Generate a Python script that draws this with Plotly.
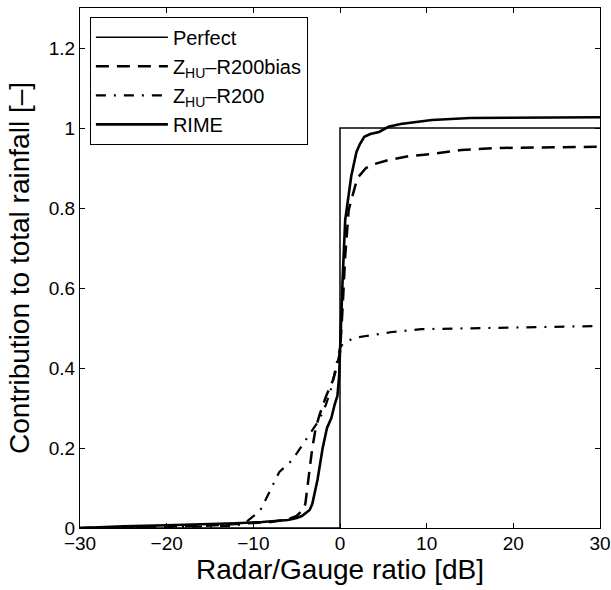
import plotly.graph_objects as go

# ---- data ----
perfect_x = [-30, 0, 0, 30]
perfect_y = [0, 0, 1, 1]

rime_x = [-30, -28, -25, -20, -15, -12, -9, -7, -6, -5, -4.4, -3.5, -3.2, -2.9, -2.6, -2.3, -2.0,
          -1.5, -1.0, -0.6, -0.3, -0.1, 0.0, 0.3, 0.6, 0.9, 1.3, 1.9, 2.3, 2.8, 3.5, 4.5, 5.6,
          7, 10.6, 15, 20, 30]
rime_y = [0.0, 0.002, 0.004, 0.007, 0.009, 0.012, 0.015, 0.018, 0.02, 0.025, 0.03, 0.045, 0.06,
          0.09, 0.12, 0.16, 0.2, 0.25, 0.275, 0.31, 0.33, 0.38, 0.45, 0.62, 0.77, 0.82, 0.88,
          0.94, 0.96, 0.978, 0.985, 0.99, 1.003, 1.01, 1.02, 1.025, 1.026, 1.027]

bias_x = [-30, -20, -15, -12, -10, -8, -6, -5, -4.3, -4.0, -3.8, -3.5, -3.2, -2.8, -2.4, -1.6,
          -0.8, -0.4, 0.0, 0.3, 0.6, 1.0, 1.3, 2.0, 3.0, 4.0, 5.6, 8, 10.6, 14, 18.3, 30]
bias_y = [0.0, 0.003, 0.006, 0.01, 0.013, 0.015, 0.022, 0.03, 0.045, 0.06, 0.095, 0.15, 0.2,
          0.25, 0.28, 0.33, 0.37, 0.40, 0.44, 0.55, 0.68, 0.795, 0.82, 0.875, 0.90, 0.91, 0.92,
          0.93, 0.935, 0.945, 0.95, 0.953]

r200_x = [-30, -20, -15, -12, -11, -10.1, -9.3, -8.6, -7.9, -7, -5.5, -4.3, -3.2, -2.4, -1.6,
          -1.0, -0.4, 0.0, 0.3, 1.6, 3, 6, 9.4, 16, 23, 30]
r200_y = [0.0, 0.002, 0.004, 0.006, 0.012, 0.028, 0.04, 0.07, 0.10, 0.14, 0.17, 0.21, 0.245,
          0.27, 0.31, 0.35, 0.41, 0.45, 0.46, 0.475, 0.48, 0.49, 0.497, 0.50, 0.503, 0.505]

x_ticks = [-30, -20, -10, 0, 10, 20, 30]
y_ticks = [0, 0.2, 0.4, 0.6, 0.8, 1, 1.2]

FONT = "Liberation Sans, Arial, Helvetica, sans-serif"

fig = go.Figure()
fig.add_trace(go.Scatter(x=perfect_x, y=perfect_y, mode="lines", name="Perfect",
                         line=dict(color="black", width=1.5)))
fig.add_trace(go.Scatter(x=bias_x, y=bias_y, mode="lines",
                         name="Z<sub>HU</sub>–R200bias",
                         line=dict(color="black", width=2.5, dash="13px,8px")))
fig.add_trace(go.Scatter(x=r200_x, y=r200_y, mode="lines",
                         name="Z<sub>HU</sub>–R200",
                         line=dict(color="black", width=2.2, dash="10px,8px,2px,8px")))
fig.add_trace(go.Scatter(x=rime_x, y=rime_y, mode="lines", name="RIME",
                         line=dict(color="black", width=2.6)))

axis_common = dict(showline=True, linecolor="black", linewidth=1, mirror="ticks",
                   ticks="inside", ticklen=5, tickcolor="black", tickwidth=1,
                   showgrid=False, zeroline=False, automargin=False,
                   ticklabeloverflow="allow",
                   tickfont=dict(family=FONT, size=19, color="black"))

fig.update_xaxes(range=[-30, 30], tickvals=x_ticks, ticklabelstandoff=-2,
                 title=dict(text="Radar/Gauge ratio [dB]",
                            font=dict(family=FONT, size=28, color="black"), standoff=0),
                 **axis_common)
fig.update_yaxes(range=[0, 1.3], tickvals=y_ticks,
                 title=dict(text="Contribution to total rainfall [–]",
                            font=dict(family=FONT, size=28, color="black"), standoff=10),
                 **axis_common)

fig.update_layout(
    width=611, height=590,
    margin=dict(l=80, r=11, t=8, b=62),
    plot_bgcolor="white", paper_bgcolor="white",
    font=dict(family=FONT, color="black"),
    showlegend=True,
    legend=dict(x=0.019, y=0.983, xanchor="left", yanchor="top",
                bgcolor="white", bordercolor="black", borderwidth=1,
                font=dict(family=FONT, size=20, color="black"),
                itemwidth=72, tracegroupgap=0),
)

fig.write_html("out.html", config={"displayModeBar": False},
               post_script="document.body.style.margin='0';")
